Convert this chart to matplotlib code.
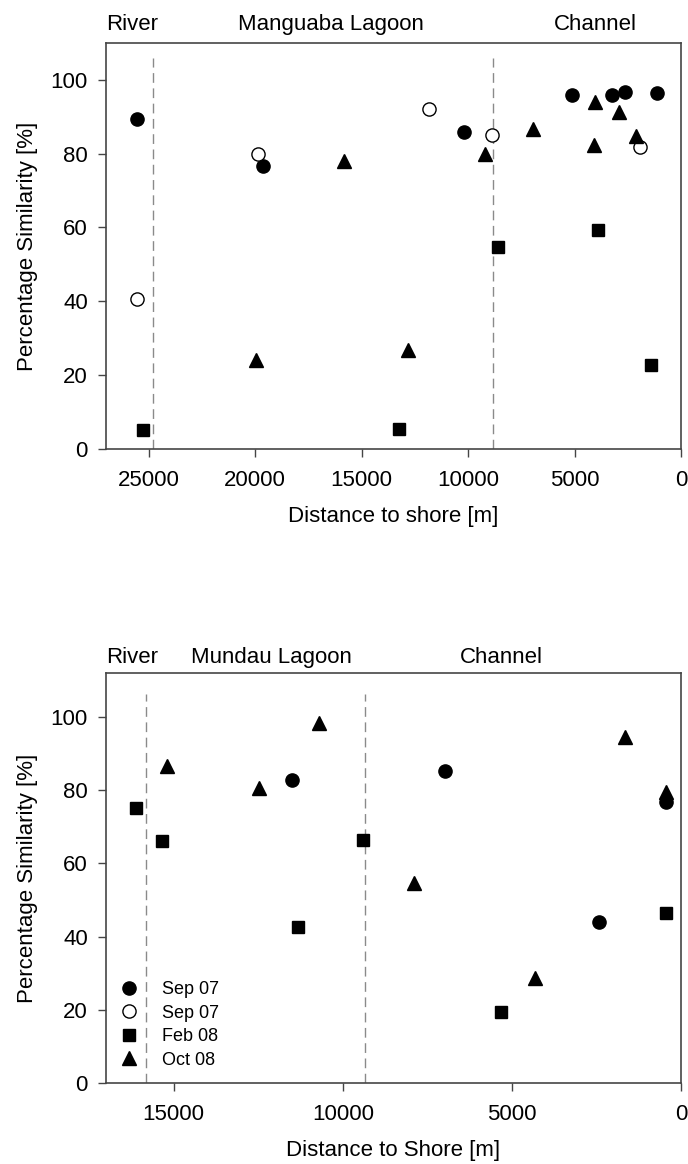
import matplotlib
matplotlib.use("Agg")
import matplotlib.pyplot as plt
import matplotlib.transforms as mtransforms

plt.rcParams['font.family'] = ['Liberation Sans', 'DejaVu Sans']
plt.rcParams['font.size'] = 16

# --- Manguaba (top panel) ---
m_sep07_x = [25520, 19620, 10170, 5120, 3250, 2650, 1130]
m_sep07_y = [89.5, 76.6, 86.0, 95.8, 95.8, 96.7, 96.5]
m_sep07b_x = [25560, 19860, 11830, 8900, 1920]
m_sep07b_y = [40.7, 80.0, 92.1, 85.0, 81.8]
m_feb08_x = [25250, 13250, 8590, 3880, 1410]
m_feb08_y = [5.1, 5.4, 54.8, 59.2, 22.8]
m_oct08_x = [19950, 15820, 12800, 9210, 6950, 4060, 4110, 2930, 2120]
m_oct08_y = [24.1, 77.9, 26.8, 80.0, 86.7, 94.1, 82.3, 91.3, 84.7]
m_bounds = [24800, 8820]
m_regions = ["River", "Manguaba Lagoon", "Channel"]

# --- Mundau (bottom panel) ---
u_sep07_x = [11490, 6970, 2440, 460]
u_sep07_y = [82.8, 85.1, 44.1, 76.7]
u_feb08_x = [16100, 15330, 11330, 9400, 5320, 460]
u_feb08_y = [75.0, 66.2, 42.7, 66.5, 19.5, 46.5]
u_oct08_x = [15200, 12480, 10710, 7900, 4330, 1660, 440]
u_oct08_y = [86.6, 80.5, 98.4, 54.5, 28.8, 94.6, 79.6]
u_bounds = [15810, 9330]
u_regions = ["River", "Mundau Lagoon", "Channel"]

legend_labels = ["Sep 07", "Sep 07", "Feb 08", "Oct 08"]

fig = plt.figure(figsize=(6.88, 11.64), dpi=100)
ax1 = fig.add_axes([0.154, 0.6143, 0.836, 0.3488])
ax2 = fig.add_axes([0.154, 0.0696, 0.836, 0.3522])

spine_col = '#454545'
dash_col = '#8a8a8a'


def style(ax, xmax, ymax, xticks):
    ax.set_xlim(xmax, 0)
    ax.set_ylim(0, ymax)
    ax.set_xticks(xticks)
    ax.set_yticks([0, 20, 40, 60, 80, 100])
    for s in ax.spines.values():
        s.set_color(spine_col)
        s.set_linewidth(1.2)
    ax.tick_params(direction='out', length=6, width=1, color=spine_col, pad=7)
    ax.tick_params(axis='x', pad=9)
    ax.set_ylabel("Percentage Similarity [%]", labelpad=9)


def marks(ax, sx, sy, ox, oy, fx, fy, tx, ty):
    h1, = ax.plot(sx, sy, 'o', color='black', ms=9.5, ls='none')
    h2, = ax.plot(ox, oy, 'o', mfc='white', mec='black', mew=1, ms=9.5, ls='none')
    h3, = ax.plot(fx, fy, 's', color='black', ms=8.5, ls='none')
    h4, = ax.plot(tx, ty, '^', color='black', ms=10, ls='none')
    return [h1, h2, h3, h4]


# top panel
for b in m_bounds:
    ax1.plot([b, b], [0, 106], color=dash_col, lw=1, ls=(0, (7, 4)))
marks(ax1, m_sep07_x, m_sep07_y, m_sep07b_x, m_sep07b_y,
      m_feb08_x, m_feb08_y, m_oct08_x, m_oct08_y)
style(ax1, 27000, 110, [25000, 20000, 15000, 10000, 5000, 0])
ax1.set_xlabel("Distance to shore [m]", labelpad=11)
tr1 = mtransforms.blended_transform_factory(ax1.transData, ax1.transAxes)
ax1.text(27000, 1.032, m_regions[0], transform=tr1, ha='left', va='baseline')
ax1.text(16460, 1.032, m_regions[1], transform=tr1, ha='center', va='baseline')
ax1.text(4010, 1.032, m_regions[2], transform=tr1, ha='center', va='baseline')

# bottom panel
for b in u_bounds:
    ax2.plot([b, b], [0, 106.4], color=dash_col, lw=1, ls=(0, (7, 4)))
hs = marks(ax2, u_sep07_x, u_sep07_y, [], [], u_feb08_x, u_feb08_y,
           u_oct08_x, u_oct08_y)
style(ax2, 17000, 112, [15000, 10000, 5000, 0])
ax2.set_xlabel("Distance to Shore [m]", labelpad=11)
tr2 = mtransforms.blended_transform_factory(ax2.transData, ax2.transAxes)
ax2.text(17000, 1.025, u_regions[0], transform=tr2, ha='left', va='baseline')
ax2.text(12100, 1.025, u_regions[1], transform=tr2, ha='center', va='baseline')
ax2.text(5300, 1.025, u_regions[2], transform=tr2, ha='center', va='baseline')

ax2.legend(hs, legend_labels, loc='lower left', frameon=False, fontsize=13,
           handlelength=1.0, handletextpad=1.33, labelspacing=0.36,
           borderaxespad=0.45, borderpad=0.35)

fig.savefig("out.png", dpi=100)
